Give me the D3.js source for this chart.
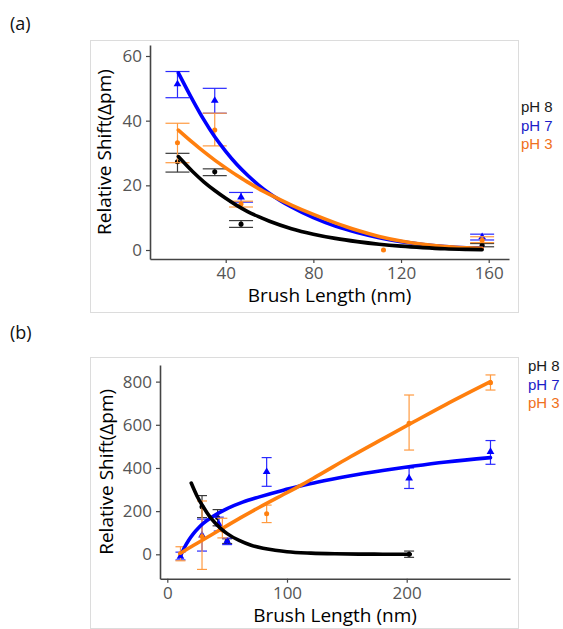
<!DOCTYPE html>
<html>
<head>
<meta charset="utf-8">
<script src="https://cdn.jsdelivr.net/npm/d3@7"></script>
<style>
  body { margin: 0; background: #fff; }
  svg { display: block; }
</style>
</head>
<body>
<svg id="chart" width="563" height="629"></svg>
<script>
// ---------- Panel (a): measured points (mean, lower, upper) ----------
const a_pH8_len = [18, 35, 47, 157];
const a_pH8_val = [27.3, 24.2, 8.0, 1.5];
const a_pH8_lo  = [24.1, 23.0, 7.0, 1.0];
const a_pH8_hi  = [29.9, 25.1, 9.1, 2.0];

const a_pH7_len = [18, 35, 47, 157];
const a_pH7_val = [51.3, 46.2, 16.3, 4.0];
const a_pH7_lo  = [47.1, 42.3, 14.8, 3.1];
const a_pH7_hi  = [55.2, 50.0, 17.8, 4.9];

const a_pH3_len = [18, 35, 47, 112, 157];
const a_pH3_val = [33.2, 37.1, 14.2, 0.0, 3.0];
const a_pH3_lo  = [27.0, 32.2, 13.3, null, 2.3];
const a_pH3_hi  = [39.2, 42.3, 15.1, null, 4.1];

// Panel (a): fitted decay curves
const a_fit_len = [18.4, 25, 30, 35, 40, 45, 50, 55, 60, 70, 80, 90, 100, 110, 120, 130, 140, 150, 157];
const a_fit_pH8 = [28.9, 24.2, 21.1, 18.4, 16.0, 13.8, 11.9, 10.3, 8.9, 6.6, 4.9, 3.6, 2.6, 1.8, 1.2, 0.75, 0.4, 0.2, 0.1];
const a_fit_pH7 = [54.8, 46.3, 40.3, 35.0, 30.5, 26.5, 23.1, 20.1, 17.5, 13.3, 10.0, 7.4, 5.4, 3.8, 2.6, 1.7, 1.1, 0.7, 0.5];
const a_fit_pH3 = [37.1, 33.2, 30.4, 27.8, 25.4, 23.1, 21.0, 19.0, 17.2, 13.9, 11.0, 8.4, 6.1, 4.2, 2.8, 1.8, 1.1, 0.7, 0.5];

// ---------- Panel (b): measured points ----------
const b_pH8_len = [29, 42, 50, 202];
const b_pH8_val = [220, 170, 60, 0];
const b_pH8_lo  = [170, 132, 50, -14];
const b_pH8_hi  = [272, 207, 72, 15];

const b_pH7_len = [11, 29, 43, 50, 83, 202, 270];
const b_pH7_val = [-10, 88, 140, 60, 382, 352, 475];
const b_pH7_lo  = [-26, 15, 108, 45, 315, 305, 417];
const b_pH7_hi  = [10, 163, 172, 75, 448, 400, 527];

const b_pH3_len = [11, 29, 46, 83, 202, 270];
const b_pH3_val = [3, 82, 113, 188, 607, 795];
const b_pH3_lo  = [-30, -70, 76, 147, 483, 761];
const b_pH3_hi  = [35, 247, 167, 228, 738, 831];

// Panel (b): fitted curves
const b_fit8_len = [20, 25, 30, 35, 40, 45, 50, 60, 70, 80, 90, 100, 120, 140, 160, 180, 203];
const b_fit8_val = [330, 268, 220, 178, 145, 118, 96, 64, 42, 28, 19, 12, 5.5, 2.4, 1, 0.5, 0];
const b_fit7_len = [11, 14, 18, 22, 26, 30, 38, 50, 63, 77, 97, 111, 125, 153, 180, 206, 233, 270];
const b_fit7_val = [-8, 28, 66, 97, 122, 143, 175, 212, 242, 266, 297, 316, 334, 364, 388, 409, 428, 448];
const b_fit3_len = [11, 22, 36, 50, 64, 77, 97, 111, 125, 153, 180, 206, 233, 270];
const b_fit3_val = [5, 42, 87, 133, 178, 218, 277, 318, 362, 452, 535, 614, 695, 800];

// ---------- Ticks and labels ----------
const a_xTicks = [40, 80, 120, 160];
const a_yTicks = [0, 20, 40, 60];
const b_xTicks = [0, 100, 200];
const b_yTicks = [0, 200, 400, 600, 800];
const seriesNames = ["pH 8", "pH 7", "pH 3"];
const xTitle = "Brush Length (nm)";
const yTitle = "Relative Shift(Δpm)";

const COL = { pH8: "#000000", pH7: "#0000ff", pH3: "#ff7f0e" };
const BAR = { pH8: "#3a3a3a", pH7: "#2a2aff", pH3: "#ff9a40" };
const LEG = { pH8: "#1a1a1a", pH7: "#1c1cc8", pH3: "#f07020" };
const FONT = "'Open Sans', 'Liberation Sans', sans-serif";
const LEG_FONT = "'Liberation Sans', Arial, sans-serif";

const svg = d3.select("#chart");

function zip(xs, ys, lo, hi) {
  return xs.map((x, i) => ({ x, y: ys[i], lo: lo ? lo[i] : null, hi: hi ? hi[i] : null }));
}

function drawPanel(p) {
  const g = svg.append("g");
  // frame
  g.append("rect")
    .attr("x", p.frame[0] + 0.5).attr("y", p.frame[1] + 0.5)
    .attr("width", p.frame[2] - p.frame[0]).attr("height", p.frame[3] - p.frame[1])
    .attr("fill", "none").attr("stroke", "#dcdcdc").attr("stroke-width", 1);

  g.append("text").attr("x", p.tag[0]).attr("y", p.tag[1])
    .attr("font-family", FONT).attr("font-size", 18).attr("fill", "#111").text(p.tagText);

  const x = d3.scaleLinear().domain(p.xDom).range([p.left, p.right]);
  const y = d3.scaleLinear().domain(p.yDom).range([p.bottom, p.top]);

  // axes
  const xAxis = d3.axisBottom(x).tickValues(p.xTicks).tickSize(4).tickSizeOuter(0).tickPadding(4);
  const yAxis = d3.axisLeft(y).tickValues(p.yTicks).tickSize(4).tickSizeOuter(0).tickPadding(4);
  const gx = g.append("g").attr("transform", `translate(0,${p.bottom})`).call(xAxis);
  const gy = g.append("g").attr("transform", `translate(${p.left},0)`).call(yAxis);
  [gx, gy].forEach(a => {
    a.select(".domain").attr("stroke", "#444").attr("stroke-width", 1.6);
    a.selectAll(".tick line").attr("stroke", "#444").attr("stroke-width", 1.2);
    a.selectAll(".tick text").attr("font-family", FONT).attr("font-size", 17).attr("fill", "#555");
  });

  g.append("text").attr("x", (p.left + p.right) / 2).attr("y", p.xTitleY)
    .attr("text-anchor", "middle").attr("font-family", FONT).attr("font-size", 19).attr("fill", "#000")
    .text(xTitle);
  g.append("text")
    .attr("transform", `translate(${p.yTitleX},${(p.top + p.bottom) / 2}) rotate(-90)`)
    .attr("text-anchor", "middle").attr("font-family", FONT).attr("font-size", 19).attr("fill", "#000")
    .text(yTitle);

  const plot = g.append("g");

  // error bars and points
  p.series.forEach(s => {
    const pts = zip(s.len, s.val, s.lo, s.hi);
    const eb = plot.append("g").attr("stroke", BAR[s.key]).attr("stroke-width", 1.2).attr("fill", "none");
    pts.filter(d => d.lo !== null && d.hi !== null).forEach(d => {
      const cx = x(d.x), c = p.cap / 2;
      eb.append("line").attr("x1", cx).attr("x2", cx).attr("y1", y(d.lo)).attr("y2", y(d.hi));
      eb.append("line").attr("x1", cx - c).attr("x2", cx + c).attr("y1", y(d.lo)).attr("y2", y(d.lo));
      eb.append("line").attr("x1", cx - c).attr("x2", cx + c).attr("y1", y(d.hi)).attr("y2", y(d.hi));
    });
    const sym = d3.symbol().type(s.key === "pH7" ? d3.symbolTriangle : d3.symbolCircle)
      .size(s.key === "pH7" ? 26 : 20);
    plot.append("g").selectAll("path").data(pts).join("path")
      .attr("transform", d => `translate(${x(d.x)},${y(d.y)})`)
      .attr("d", sym).attr("fill", COL[s.key]);
  });

  // fitted curves (blue, orange, then black on top)
  const line = d3.line().x(d => x(d.x)).y(d => y(d.y)).curve(d3.curveMonotoneX);
  p.fits.forEach(f => {
    plot.append("path").datum(zip(f.len, f.val))
      .attr("d", line).attr("fill", "none")
      .attr("stroke", COL[f.key]).attr("stroke-width", 3.6)
      .attr("stroke-linecap", "round").attr("stroke-linejoin", "round");
  });

  // legend
  const keys = ["pH8", "pH7", "pH3"];
  seriesNames.forEach((name, i) => {
    g.append("text").attr("x", p.legend[0]).attr("y", p.legend[1] + i * 18.5)
      .attr("font-family", LEG_FONT).attr("font-size", 15).attr("fill", LEG[keys[i]])
      .text(name);
  });
}

drawPanel({
  frame: [90, 40, 518, 312], tag: [10, 30], tagText: "(a)",
  left: 150, right: 509, top: 45, bottom: 259,
  xDom: [5.46, 169.26], yDom: [-2.78, 63.4],
  xTicks: a_xTicks, yTicks: a_yTicks, xTitleY: 302, yTitleX: 111, cap: 24,
  legend: [521, 112],
  series: [
    { key: "pH8", len: a_pH8_len, val: a_pH8_val, lo: a_pH8_lo, hi: a_pH8_hi },
    { key: "pH7", len: a_pH7_len, val: a_pH7_val, lo: a_pH7_lo, hi: a_pH7_hi },
    { key: "pH3", len: a_pH3_len, val: a_pH3_val, lo: a_pH3_lo, hi: a_pH3_hi }
  ],
  fits: [
    { key: "pH7", len: a_fit_len, val: a_fit_pH7 },
    { key: "pH3", len: a_fit_len, val: a_fit_pH3 },
    { key: "pH8", len: a_fit_len, val: a_fit_pH8 }
  ]
});

drawPanel({
  frame: [90, 357, 518, 628], tag: [10, 339], tagText: "(b)",
  left: 160, right: 510, top: 365, bottom: 578.7,
  xDom: [-6.1, 286.3], yDom: [-113, 877],
  xTicks: b_xTicks, yTicks: b_yTicks, xTitleY: 622, yTitleX: 113, cap: 10,
  legend: [528, 371],
  series: [
    { key: "pH8", len: b_pH8_len, val: b_pH8_val, lo: b_pH8_lo, hi: b_pH8_hi },
    { key: "pH7", len: b_pH7_len, val: b_pH7_val, lo: b_pH7_lo, hi: b_pH7_hi },
    { key: "pH3", len: b_pH3_len, val: b_pH3_val, lo: b_pH3_lo, hi: b_pH3_hi }
  ],
  fits: [
    { key: "pH7", len: b_fit7_len, val: b_fit7_val },
    { key: "pH3", len: b_fit3_len, val: b_fit3_val },
    { key: "pH8", len: b_fit8_len, val: b_fit8_val }
  ]
});
</script>
</body>
</html>
